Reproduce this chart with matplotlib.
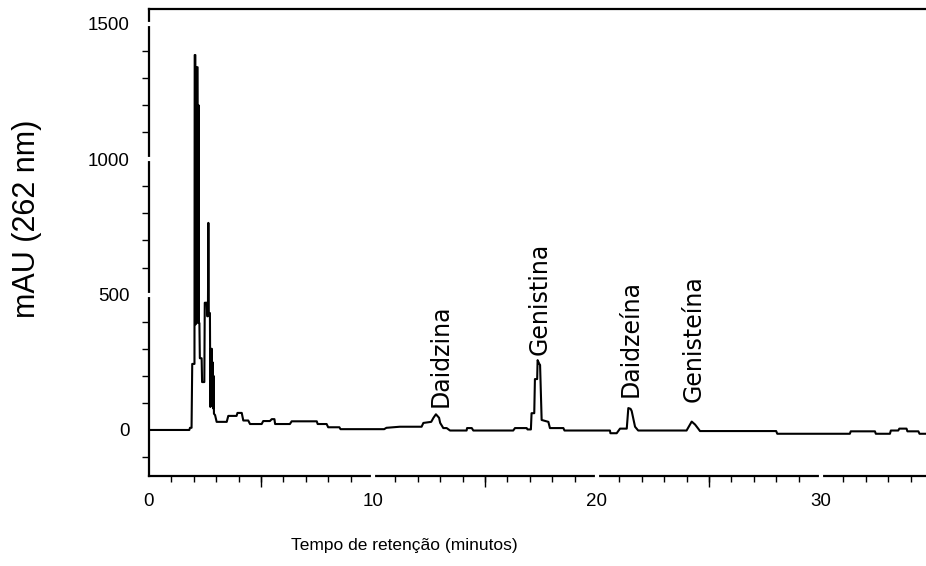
import matplotlib
matplotlib.use("Agg")
import matplotlib.pyplot as plt
from matplotlib.ticker import MultipleLocator, FixedLocator

# chromatogram trace (minutes, mAU)
t_min = [0.0, 1.80, 1.83, 1.90, 1.93, 2.03, 2.04, 2.07, 2.08, 2.10, 2.12, 2.14,
         2.17, 2.19, 2.21, 2.23, 2.25, 2.27, 2.35, 2.37, 2.45, 2.47, 2.49, 2.58,
         2.60, 2.63, 2.65, 2.67, 2.72, 2.74, 2.76, 2.78, 2.80, 2.82, 2.84, 2.86,
         2.88, 2.90, 2.95, 3.02, 3.47, 3.54, 3.91, 3.95, 4.14, 4.21, 4.43, 4.51,
         5.03, 5.10, 5.40, 5.48, 5.60, 5.63, 6.29, 6.37, 7.49, 7.53, 7.93, 8.00,
         8.50, 8.55, 10.5, 10.6, 11.2, 12.17, 12.25, 12.6, 12.7, 12.81, 12.95,
         13.0, 13.14, 13.29, 13.44, 14.18, 14.2, 14.41, 14.48, 16.26, 16.34,
         16.86, 16.9, 17.05, 17.08, 17.2, 17.23, 17.33, 17.35, 17.42, 17.46,
         17.53, 17.83, 17.9, 18.5, 18.55, 20.58, 20.6, 20.88, 21.03, 21.33,
         21.4, 21.5, 21.55, 21.7, 21.84, 24.0, 24.23, 24.38, 24.52, 24.6, 28.0,
         28.05, 31.29, 31.33, 32.41, 32.45, 33.08, 33.12, 33.45, 33.5, 33.82,
         33.86, 34.35, 34.4, 34.75]
mau = [0, 0, 8, 8, 244, 244, 1385, 1385, 390, 1340, 400, 1340,
       1340, 395, 1200, 395, 395, 265, 265, 177, 177, 177, 470, 470,
       420, 420, 765, 432, 432, 85, 300, 90, 300, 100, 250, 80,
       200, 60, 55, 30, 30, 52, 52, 63, 63, 35, 35, 22,
       22, 33, 33, 40, 40, 22, 22, 32, 32, 22, 22, 10,
       10, 3, 3, 8, 12, 12, 26, 30, 45, 58, 45,
       26, 7, 7, -2, -2, 7, 7, -2, -2, 7,
       7, 2, 2, 62, 62, 188, 188, 258, 245, 240,
       37, 30, 7, 7, -2, -2, -12, -12, 5, 5,
       81, 78, 70, 12, -2, -2, 31, 20, 5, -4, -4,
       -14, -14, -5, -5, -14, -14, -2, -2, 5, 5,
       -5, -5, -14, -14]

peak_names = ["Daidzina", "Genistina", "Daidzeína", "Genisteína"]
peak_times = [13.0, 17.45, 21.5, 24.3]
label_base = [85, 277, 122, 103]

x_labels = [0, 10, 20, 30]
y_labels = [0, 500, 1000, 1500]
x_long = [5, 15, 25]

fig = plt.figure(figsize=(9.26, 5.66), dpi=100)
ax = fig.add_axes([149 / 926, 90 / 566, 777 / 926, 467 / 566])

ax.plot(t_min, mau, color="black", lw=1.5)

for name, t, yb in zip(peak_names, peak_times, label_base):
    ax.text(t, yb, name, rotation=90, ha="center", va="bottom",
            fontsize=17, family="DejaVu Sans")

ax.set_xlim(0, 34.69)
ax.set_ylim(-170, 1555)

ax.spines["right"].set_visible(False)
for s in ("left", "top", "bottom"):
    ax.spines[s].set_linewidth(1.6)

ax.xaxis.set_major_locator(FixedLocator(x_labels))
ax.xaxis.set_minor_locator(MultipleLocator(1))
ax.yaxis.set_major_locator(FixedLocator(y_labels))
ax.yaxis.set_minor_locator(MultipleLocator(100))
ax.tick_params(which="major", length=0, labelsize=13.5)
ax.tick_params(axis="y", which="major", pad=14)
ax.tick_params(axis="x", which="major", pad=12)
ax.tick_params(axis="y", which="minor", length=5, width=1, direction="out")
ax.tick_params(axis="x", which="minor", length=4, width=1, direction="out")
for lab in ax.get_xticklabels() + ax.get_yticklabels():
    lab.set_family("Liberation Sans")

# gaps in the spines at the labelled values, long ticks at the half decades
ax.plot([0] * 3, y_labels[1:], ls="none", marker="_", ms=7, mew=3,
        color="white", clip_on=False, zorder=5)
ax.plot(x_labels[1:], [-170] * 3, ls="none", marker="|", ms=7, mew=3,
        color="white", clip_on=False, zorder=5)
ax.plot(x_long, [-170] * 3, ls="none", marker=3, ms=8, mew=1,
        color="black", clip_on=False, zorder=5)

ax.set_ylabel("mAU (262 nm)", fontsize=22, family="Liberation Sans")
ax.yaxis.set_label_coords(-0.138, 0.55)
ax.set_xlabel("Tempo de retenção (minutos)", fontsize=12.5,
              family="Liberation Sans")
ax.xaxis.set_label_coords(0.328, -0.133)

fig.savefig("out.png", dpi=100)
